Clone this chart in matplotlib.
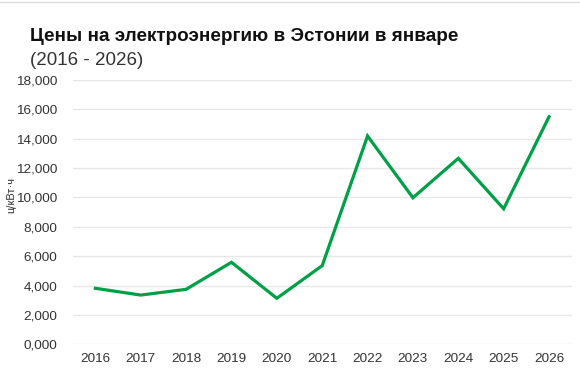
import matplotlib
matplotlib.use("Agg")
import matplotlib.pyplot as plt
from matplotlib.ticker import FuncFormatter, MultipleLocator

years = [2016, 2017, 2018, 2019, 2020, 2021, 2022, 2023, 2024, 2025, 2026]
prices = [3.81, 3.35, 3.74, 5.58, 3.13, 5.35, 14.17, 9.97, 12.65, 9.22, 15.48]

title = "Цены на электроэнергию в Эстонии в январе"
subtitle = "(2016 - 2026)"
ylabel = "ц/кВт·ч"

plt.rcParams['font.family'] = ['Liberation Sans', 'DejaVu Sans']

fig = plt.figure(figsize=(5.8, 3.76), dpi=100)
ax = fig.add_axes([0.1253, 0.0843, 0.8604, 0.7037])

ax.plot(years, prices, color='#00a046', lw=2.3, solid_joinstyle='miter')

ax.set_xlim(2015.5, 2026.5)
ax.set_ylim(0, 18)
ax.yaxis.set_major_locator(MultipleLocator(2))
ax.set_xticks(years)
ax.yaxis.set_major_formatter(FuncFormatter(lambda v, p: f"{v:.3f}".replace('.', ',')))
ax.grid(axis='y', color='#e8e8e8', lw=1)
ax.set_axisbelow(True)
for s in ax.spines.values():
    s.set_visible(False)
ax.tick_params(axis='both', length=0, labelsize=9.7, colors='#333333')
ax.tick_params(axis='y', pad=11)
ax.tick_params(axis='x', pad=6)
ax.set_ylabel(ylabel, fontsize=8, color='#333333')
ax.yaxis.set_label_coords(-0.123, 0.564)
ax.yaxis.label.set_va('center')

fig.text(0.052, 0.9016, title, fontsize=13.6, fontweight='bold', color='#111111', va='center')
fig.text(0.052, 0.838, subtitle, fontsize=13.5, color='#333333', va='center')
fig.add_artist(plt.Line2D([0, 1], [0.995, 0.995], color='#dddddd', lw=1, transform=fig.transFigure))

fig.savefig("out.png", dpi=100, facecolor='white')
